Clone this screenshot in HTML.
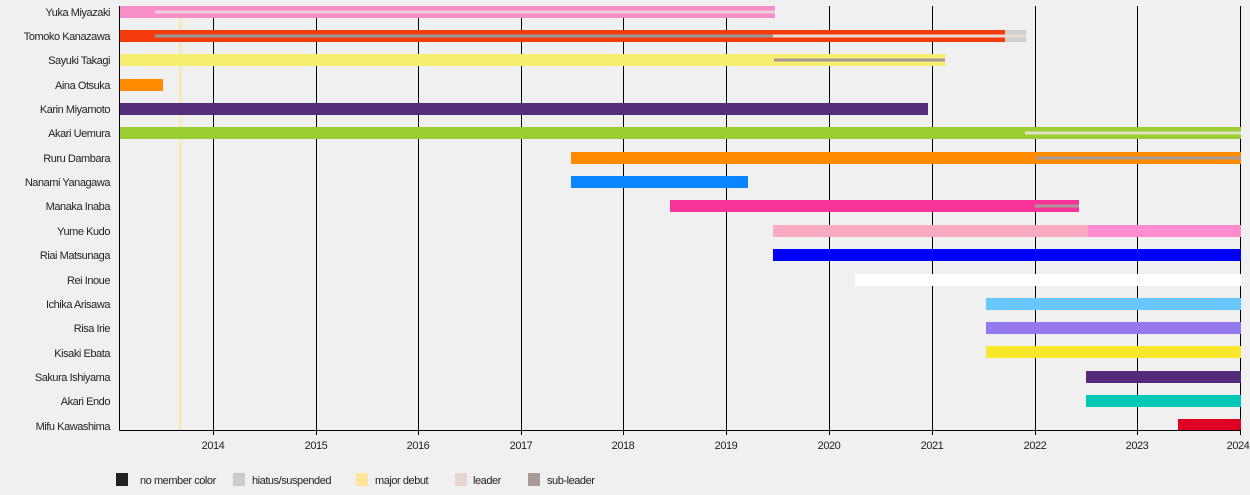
<!DOCTYPE html>
<html><head><meta charset="utf-8"><style>
html,body{margin:0;padding:0;background:#f0f0f0;}
svg{display:block;font-family:"Liberation Sans",sans-serif;}
text{letter-spacing:-0.45px;}
</style></head><body>
<svg width="1250" height="495" viewBox="0 0 1250 495" xmlns="http://www.w3.org/2000/svg">
<rect width="1250" height="495" fill="#f0f0f0"/>
<!-- major debut -->
<rect x="179.5" y="6" width="2" height="424" fill="#ffe6a0"/>
<!-- gridlines -->
<g stroke="#000" stroke-width="1">
<line x1="213.5" y1="6" x2="213.5" y2="435"/>
<line x1="316.5" y1="6" x2="316.5" y2="435"/>
<line x1="418.5" y1="6" x2="418.5" y2="435"/>
<line x1="521.5" y1="6" x2="521.5" y2="435"/>
<line x1="623.5" y1="6" x2="623.5" y2="435"/>
<line x1="726.5" y1="6" x2="726.5" y2="435"/>
<line x1="829.5" y1="6" x2="829.5" y2="435"/>
<line x1="932.5" y1="6" x2="932.5" y2="435"/>
<line x1="1035.5" y1="6" x2="1035.5" y2="435"/>
<line x1="1137.5" y1="6" x2="1137.5" y2="435"/>
<line x1="1240.5" y1="6" x2="1240.5" y2="435"/>
</g>
<!-- bars -->
<g>
<rect x="120" y="6" width="655" height="12" fill="#f98fc9"/>
<rect x="155" y="10.5" width="620" height="3" fill="#eccdd8"/>

<rect x="120" y="30" width="885" height="12" fill="#f43b0b"/>
<rect x="155" y="34.5" width="618" height="3" fill="#999"/>
<rect x="773" y="34.5" width="232" height="3" fill="#eadbd2"/>
<rect x="1005" y="30" width="21" height="12" fill="#cfcfcf"/>
<rect x="1005" y="34.5" width="21" height="3" fill="#eadbd2"/>

<rect x="120" y="54" width="825" height="12" fill="#f6ee70"/>
<rect x="774" y="58.5" width="171" height="3" fill="#a89898"/>

<rect x="120" y="79" width="43" height="12" fill="#ff8c00"/>
<rect x="120" y="103" width="808" height="12" fill="#542e79"/>

<rect x="120" y="127" width="1121" height="12" fill="#9acd32"/>
<rect x="1025" y="131.5" width="216" height="3" fill="#e0e3c8"/>

<rect x="571" y="152" width="670" height="12" fill="#ff8c00"/>
<rect x="1036" y="156.5" width="205" height="3" fill="#a89898"/>

<rect x="571" y="176" width="177" height="12" fill="#0a84ff"/>

<rect x="670" y="200" width="409" height="12" fill="#f7339a"/>
<rect x="1035" y="204.5" width="44" height="3" fill="#a89898"/>

<rect x="773" y="225" width="315" height="12" fill="#f8aac0"/>
<rect x="1088" y="225" width="153" height="12" fill="#ff8cce"/>

<rect x="773" y="249" width="468" height="12" fill="#0000ff"/>
<rect x="855" y="274" width="386" height="12" fill="#ffffff"/>
<rect x="986" y="298" width="255" height="12" fill="#66c8fa"/>
<rect x="986" y="322" width="255" height="12" fill="#9479ee"/>
<rect x="986" y="346" width="255" height="12" fill="#f9e52a"/>
<rect x="1086" y="371" width="155" height="12" fill="#542a7a"/>
<rect x="1086" y="395" width="155" height="12" fill="#00c8b6"/>
<rect x="1178" y="419" width="63" height="11" fill="#e00024"/>
</g>
<g stroke="#000" stroke-width="1">
<line x1="119.5" y1="6" x2="119.5" y2="430.5"/>
<line x1="119.5" y1="430.5" x2="1241" y2="430.5"/>
</g>
<!-- x labels -->
<g font-size="11" fill="#222" text-anchor="middle">
<text x="213" y="449">2014</text><text x="316" y="449">2015</text><text x="418" y="449">2016</text>
<text x="521" y="449">2017</text><text x="623" y="449">2018</text><text x="726" y="449">2019</text>
<text x="829" y="449">2020</text><text x="932" y="449">2021</text><text x="1035" y="449">2022</text>
<text x="1137" y="449">2023</text><text x="1238" y="449">2024</text>
</g>
<!-- y labels -->
<g font-size="11" fill="#222" text-anchor="end">
<text x="110" y="16">Yuka Miyazaki</text>
<text x="110" y="40">Tomoko Kanazawa</text>
<text x="110" y="64">Sayuki Takagi</text>
<text x="110" y="89">Aina Otsuka</text>
<text x="110" y="113">Karin Miyamoto</text>
<text x="110" y="137">Akari Uemura</text>
<text x="110" y="162">Ruru Dambara</text>
<text x="110" y="186">Nanami Yanagawa</text>
<text x="110" y="210">Manaka Inaba</text>
<text x="110" y="235">Yume Kudo</text>
<text x="110" y="259">Riai Matsunaga</text>
<text x="110" y="284">Rei Inoue</text>
<text x="110" y="308">Ichika Arisawa</text>
<text x="110" y="332">Risa Irie</text>
<text x="110" y="357">Kisaki Ebata</text>
<text x="110" y="381">Sakura Ishiyama</text>
<text x="110" y="405">Akari Endo</text>
<text x="110" y="430">Mifu Kawashima</text>
</g>
<!-- legend -->
<g font-size="11" fill="#222">
<rect x="116" y="473" width="12" height="13" fill="#222"/><text x="140" y="484">no member color</text>
<rect x="233" y="473" width="12" height="13" fill="#cccccc"/><text x="252" y="484">hiatus/suspended</text>
<rect x="356" y="473" width="12" height="13" fill="#ffe599"/><text x="375" y="484">major debut</text>
<rect x="455" y="473" width="12" height="13" fill="#e6d6d0"/><text x="473" y="484">leader</text>
<rect x="528" y="473" width="12" height="13" fill="#ab9898"/><text x="547" y="484">sub-leader</text>
</g>
</svg>
</body></html>
